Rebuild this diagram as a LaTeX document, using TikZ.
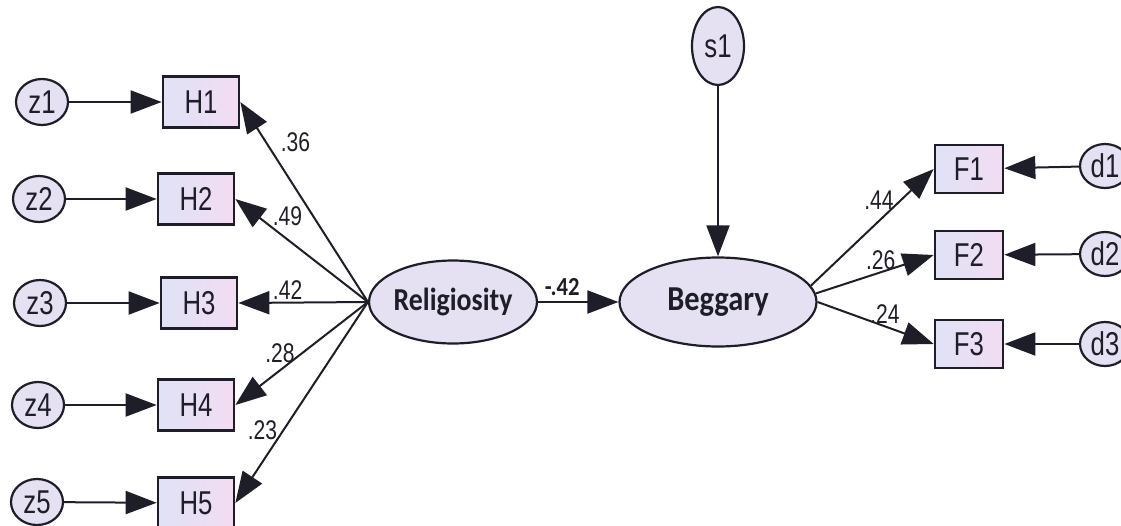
\documentclass[tikz,border=0pt]{standalone}
\usepackage{fontspec}
\newfontfamily\narrowfont{Liberation Sans}[FakeStretch=0.78]
\newfontfamily\calfont{Carlito}[FakeStretch=0.87]
\usetikzlibrary{arrows.meta,shapes.geometric}
\definecolor{boxl}{RGB}{224,226,246}
\definecolor{boxr}{RGB}{242,220,242}
\definecolor{ovfill}{RGB}{229,225,243}
\definecolor{ink}{RGB}{30,30,40}
\begin{document}
\begin{tikzpicture}[x=1pt,y=-1pt,
		obs/.style={draw=ink, line width=2.7pt, left color=boxl, right color=boxr, minimum width=76pt, minimum height=51pt, inner sep=0pt, text=ink, font=\narrowfont\fontsize{33}{33}\selectfont},
		err/.style={ellipse, draw=ink, line width=2.2pt, fill=ovfill, minimum width=52pt, minimum height=46pt, inner sep=0pt, text=ink, font=\narrowfont\fontsize{33}{33}\selectfont},
		lat/.style={ellipse, draw=ink, line width=2.2pt, fill=ovfill, inner sep=0pt, text=ink},
		arr/.style={draw=ink, line width=2pt, -{Triangle[length=31pt,width=23pt]}},
		lbl/.style={inner sep=2pt, text=ink, font=\narrowfont\fontsize{27}{27}\selectfont}]
	\useasboundingbox (0,0) rectangle (1121,525);
	\node (z1) at (42,102) [err] {z1};
	\node (z2) at (39,199) [err] {z2};
	\node (z3) at (40,303) [err] {z3};
	\node (z4) at (38,405) [err] {z4};
	\node (z5) at (37,502) [err] {z5};
	\node (H1) at (201,102) [obs] {H1};
	\node (H2) at (196,199) [obs] {H2};
	\node (H3) at (199,303) [obs] {H3};
	\node (H4) at (196,405) [obs] {H4};
	\node (H5) at (196,503) [obs] {H5};
	\node (R) at (453,302) [lat, minimum width=167pt, minimum height=83pt, font=\calfont\bfseries\fontsize{32}{32}\selectfont] {Religiosity};
	\node (B) at (718,302) [lat, minimum width=197pt, minimum height=89pt, font=\calfont\bfseries\fontsize{35}{35}\selectfont] {Beggary};
	\node (s1) at (718,46) [err, minimum width=52pt, minimum height=78pt] {s1};
	\node (F1) at (969,169) [obs, minimum width=68pt, minimum height=48pt] {F1};
	\node (F2) at (969,255) [obs, minimum width=68pt, minimum height=48pt] {F2};
	\node (F3) at (969,344) [obs, minimum width=68pt, minimum height=48pt] {F3};
	\node (d1) at (1105,166) [err, minimum width=50pt, minimum height=44pt] {d1};
	\node (d2) at (1105,254) [err, minimum width=50pt, minimum height=44pt] {d2};
	\node (d3) at (1105,344) [err, minimum width=50pt, minimum height=44pt] {d3};
	\draw[arr] (z1) -- (H1);
	\draw[arr] (z2) -- (H2);
	\draw[arr] (z3) -- (H3);
	\draw[arr] (z4) -- (H4);
	\draw[arr] (z5) -- (H5);
	\draw[arr] (R.west) -- (H1.east) node[lbl, pos=0.8, right=12pt] {.36};
	\draw[arr] (R.west) -- (H2.east) node[lbl, pos=0.83, right=12pt] {.49};
	\draw[arr] (R.west) -- (H3.east) node[lbl, pos=0.62, above] {.42};
	\draw[arr] (R.west) -- (H4.east) node[lbl, pos=0.5, left=4pt] {.28};
	\draw[arr] (R.west) -- (H5.east) node[lbl, pos=0.64, left=3pt] {.23};
	\draw[arr] (R) -- (B) node[pos=0.3, above=2pt, text=ink, font=\calfont\bfseries\fontsize{26}{26}\selectfont] {-.42};
	\draw[arr] (s1) -- (B);
	\draw[arr] (B.10) -- (F1.west) node[lbl, pos=0.73, left=4pt] {.44};
	\draw[arr] (B.5) -- (F2.west) node[lbl, pos=0.55, above] {.26};
	\draw[arr] (B.east) -- (F3.west) node[lbl, pos=0.58, above] {.24};
	\draw[arr] (d1) -- (F1);
	\draw[arr] (d2) -- (F2);
	\draw[arr] (d3) -- (F3);
\end{tikzpicture}
\end{document}
